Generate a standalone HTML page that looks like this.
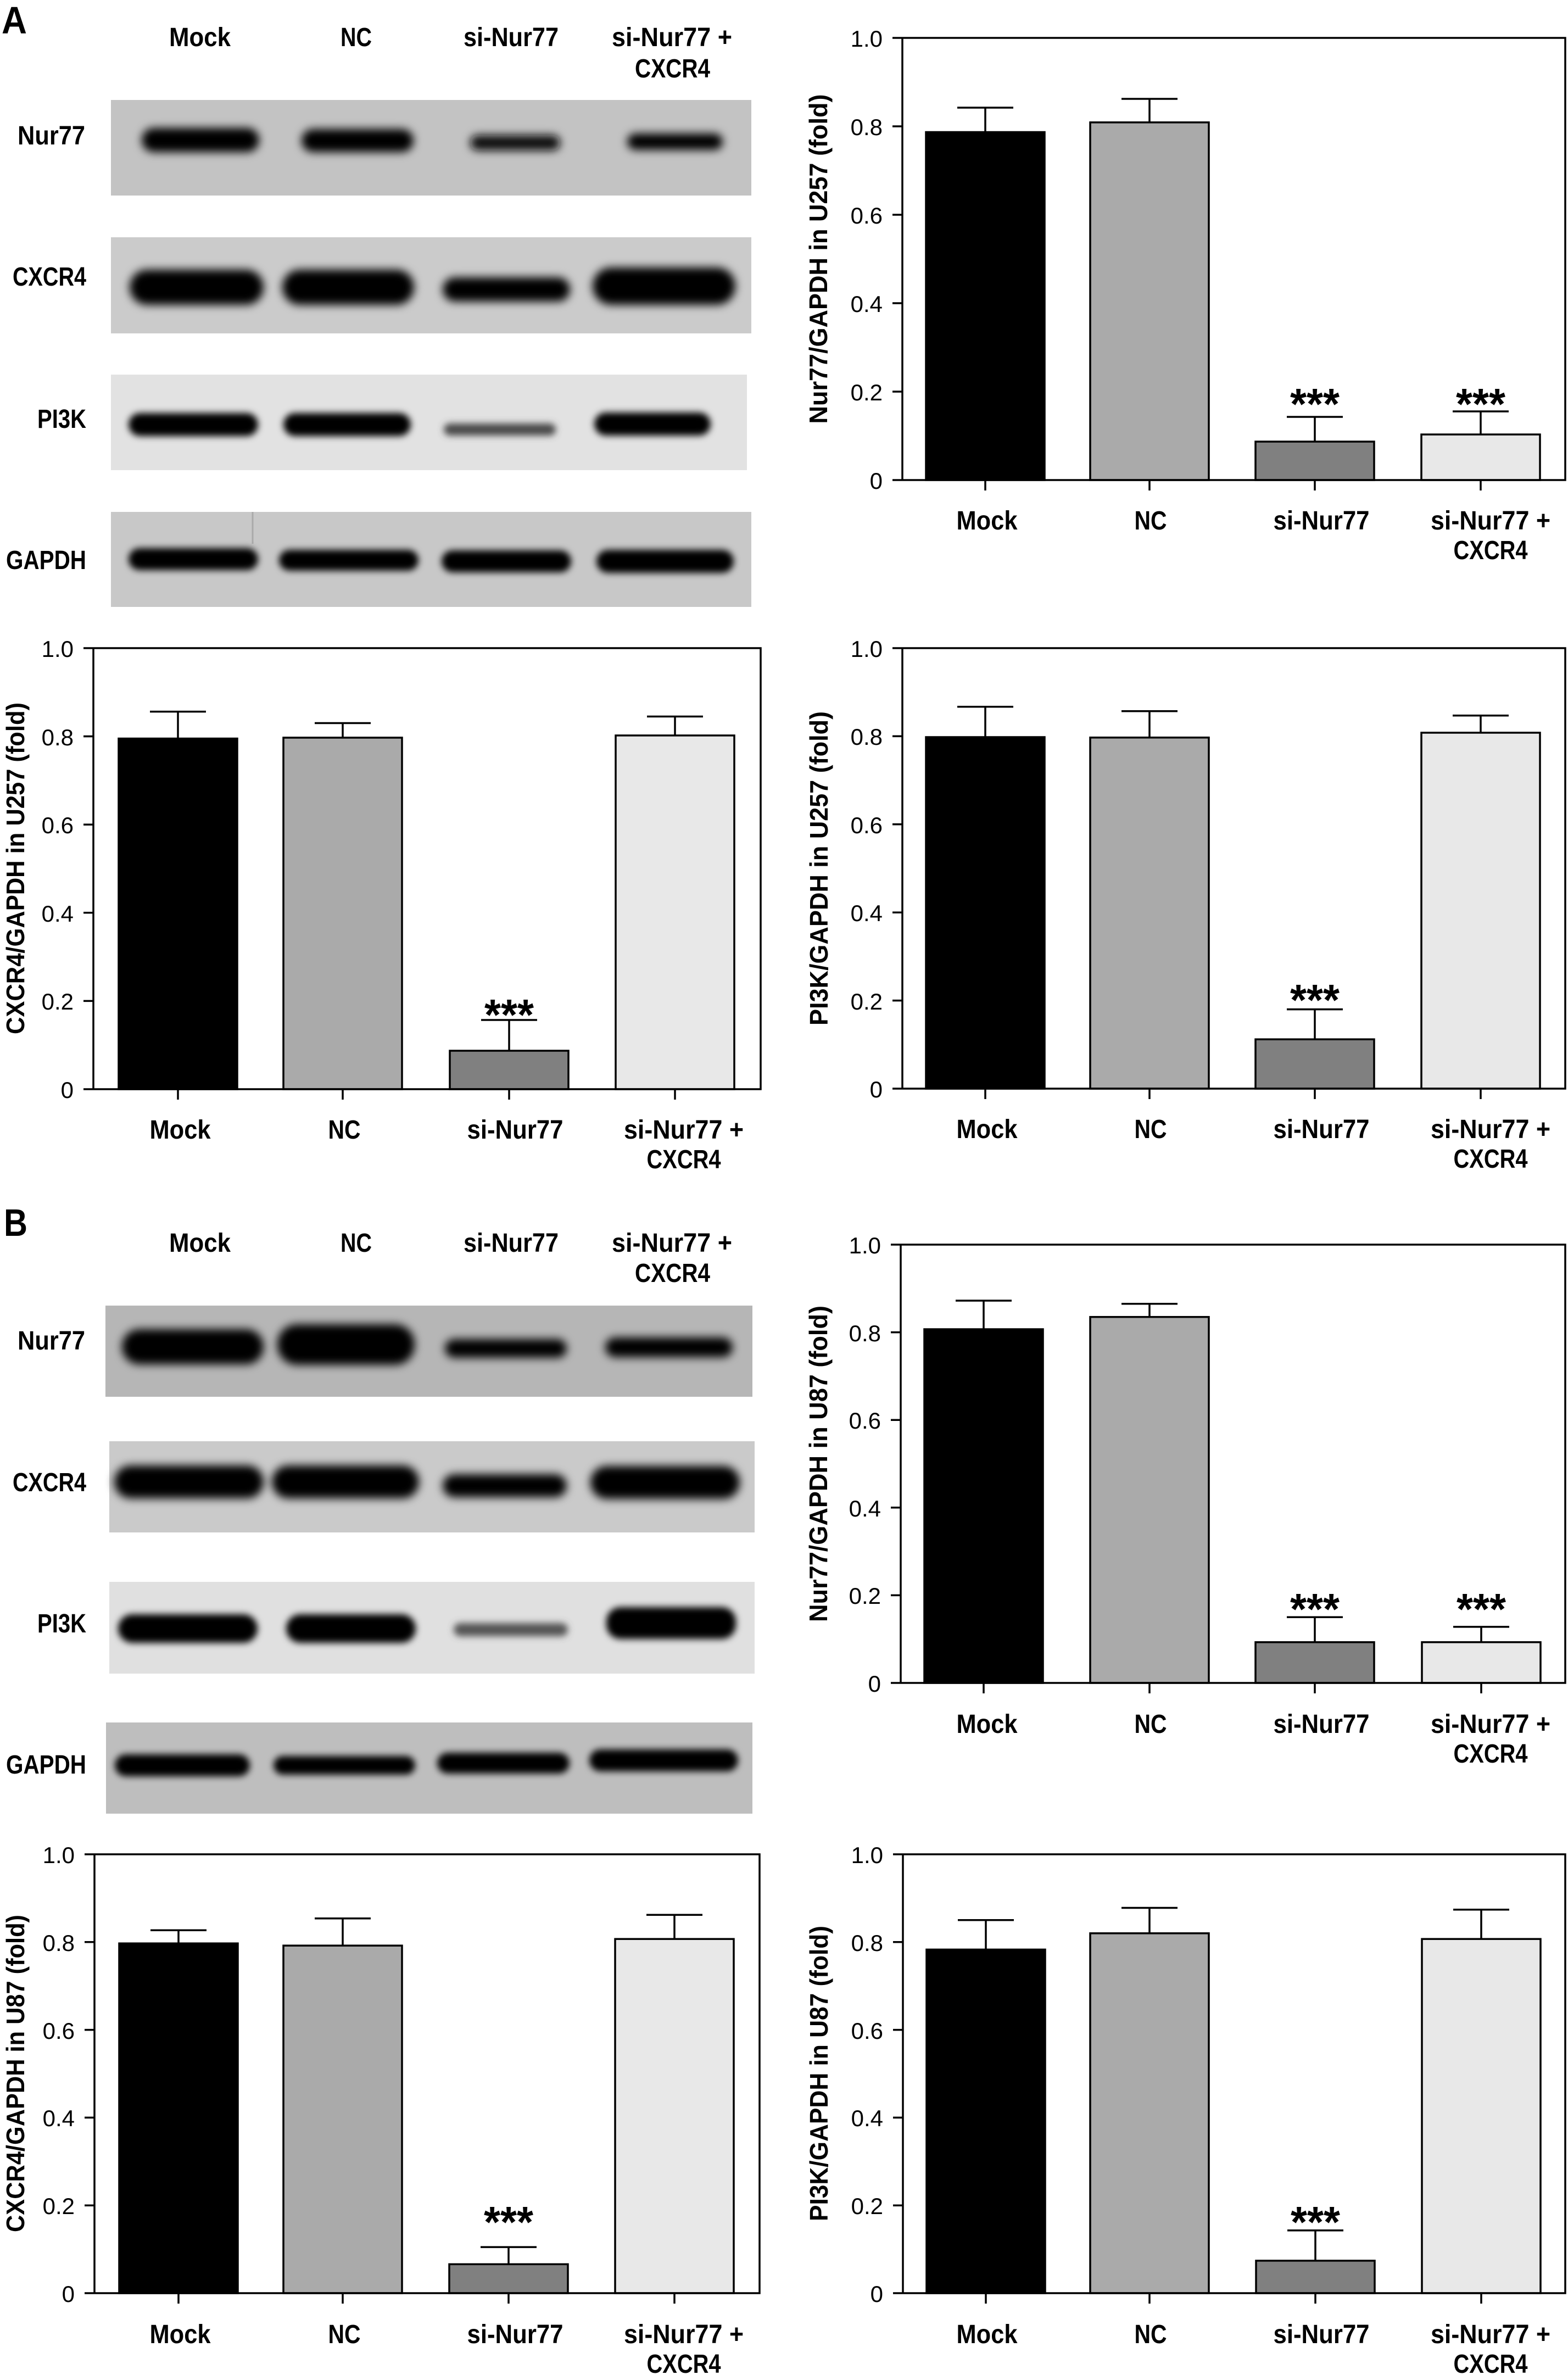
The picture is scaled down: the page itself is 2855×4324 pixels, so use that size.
<!DOCTYPE html>
<html><head><meta charset="utf-8"><style>
html,body{margin:0;padding:0;background:#fff;}
svg{display:block;}
text{font-family:"Liberation Sans",Arial,sans-serif;fill:#000;}
.b{font-weight:bold;font-size:48px;}
.t{font-size:42px;}
.yt{font-weight:bold;font-size:46px;}
.ast{font-weight:bold;font-size:80px;}
.L{font-weight:bold;font-size:70px;}
</style></head><body>
<svg width="2855" height="4324" viewBox="0 0 2855 4324" xmlns="http://www.w3.org/2000/svg">
<defs>
<filter id="bl" x="-20%" y="-100%" width="140%" height="300%"><feGaussianBlur stdDeviation="8"/></filter>
<filter id="bl2" x="-20%" y="-100%" width="140%" height="300%"><feGaussianBlur stdDeviation="6"/></filter>
</defs>
<rect width="2855" height="4324" fill="#fff"/>

<!-- ============ PANEL A BLOTS ============ -->
<text class="L" x="3" y="61" textLength="46" lengthAdjust="spacingAndGlyphs">A</text>
<text class="b" x="308" y="84" textLength="112" lengthAdjust="spacingAndGlyphs">Mock</text>
<text class="b" x="620" y="84" textLength="57" lengthAdjust="spacingAndGlyphs">NC</text>
<text class="b" x="844" y="84" textLength="173" lengthAdjust="spacingAndGlyphs">si-Nur77</text>
<text class="b" x="1114" y="84" textLength="219" lengthAdjust="spacingAndGlyphs">si-Nur77 +</text>
<text class="b" x="1156" y="141" textLength="137" lengthAdjust="spacingAndGlyphs">CXCR4</text>

<text class="b" x="32" y="263" textLength="123" lengthAdjust="spacingAndGlyphs">Nur77</text>
<text class="b" x="23" y="520" textLength="134" lengthAdjust="spacingAndGlyphs">CXCR4</text>
<text class="b" x="68" y="779" textLength="89" lengthAdjust="spacingAndGlyphs">PI3K</text>
<text class="b" x="11" y="1036" textLength="146" lengthAdjust="spacingAndGlyphs">GAPDH</text>

<!-- Nur77 A -->
<rect x="202" y="182" width="1166" height="174" fill="#c3c3c3"/>
<g filter="url(#bl)" fill="#000">
<rect x="258" y="233" width="214" height="44" rx="22"/>
<rect x="549" y="235" width="204" height="42" rx="21"/>
<rect x="856" y="246" width="164" height="28" rx="14" fill="#111"/>
<rect x="1142" y="243" width="174" height="30" rx="15"/>
</g>
<!-- CXCR4 A -->
<rect x="202" y="432" width="1166" height="175" fill="#cbcbcb"/>
<g filter="url(#bl)" fill="#000">
<rect x="236" y="491" width="244" height="64" rx="32"/>
<rect x="514" y="491" width="240" height="64" rx="32"/>
<rect x="806" y="505" width="232" height="44" rx="22"/>
<rect x="1079" y="487" width="260" height="68" rx="34"/>
</g>
<!-- PI3K A -->
<rect x="202" y="682" width="1158" height="174" fill="#e2e2e2"/>
<g filter="url(#bl2)" fill="#000">
<rect x="234" y="752" width="236" height="42" rx="21"/>
<rect x="516" y="752" width="232" height="42" rx="21"/>
<rect x="808" y="771" width="204" height="22" rx="11" fill="#4a4a4a"/>
<rect x="1082" y="751" width="212" height="42" rx="21"/>
</g>
<!-- GAPDH A -->
<rect x="202" y="932" width="1166" height="173" fill="#c8c8c8"/>
<line x1="460" y1="932" x2="460" y2="990" stroke="#aaa" stroke-width="3"/>
<g filter="url(#bl2)" fill="#000">
<rect x="234" y="998" width="236" height="40" rx="20"/>
<rect x="508" y="1001" width="254" height="38" rx="19"/>
<rect x="804" y="1002" width="236" height="40" rx="20"/>
<rect x="1086" y="1001" width="250" height="42" rx="21"/>
</g>

<!-- ============ CHART A top-right ============ -->
<rect x="1686" y="240.5" width="216" height="633.5" fill="#000" stroke="#000" stroke-width="3.5"/>
<rect x="1985" y="222.8" width="216" height="651.2" fill="#aaaaaa" stroke="#000" stroke-width="3.5"/>
<rect x="2286" y="804" width="216" height="70" fill="#808080" stroke="#000" stroke-width="3.5"/>
<rect x="2588" y="791" width="216" height="83" fill="#e8e8e8" stroke="#000" stroke-width="3.5"/>
<path d="M1794,240.5V196M1743,196H1845M2093,222.8V180M2042,180H2144M2394,804V759M2343,759H2445M2696,791V749M2645,749H2747" stroke="#000" stroke-width="3.5" fill="none"/>
<path d="M1625,69H2850V874H1625M1643,69V874M1625,230H1643M1625,391H1643M1625,552H1643M1625,713H1643M1794,874V893M2093,874V893M2394,874V893M2696,874V893" stroke="#000" stroke-width="3.5" fill="none"/>
<g class="t" text-anchor="end">
<text class="t" x="1607" y="85">1.0</text><text class="t" x="1607" y="246">0.8</text><text class="t" x="1607" y="407">0.6</text><text class="t" x="1607" y="568">0.4</text><text class="t" x="1607" y="729">0.2</text><text class="t" x="1607" y="890">0</text>
</g>
<text class="ast" x="2349" y="763" textLength="90" lengthAdjust="spacingAndGlyphs">***</text>
<text class="ast" x="2651" y="763" textLength="90" lengthAdjust="spacingAndGlyphs">***</text>
<text class="yt" transform="translate(1490,471.5) rotate(-90)" x="-300" y="16" textLength="600" lengthAdjust="spacingAndGlyphs">Nur77/GAPDH in U257 (fold)</text>
<text class="b" x="1741.5" y="964" textLength="111" lengthAdjust="spacingAndGlyphs">Mock</text>
<text class="b" x="2065.5" y="964" textLength="59" lengthAdjust="spacingAndGlyphs">NC</text>
<text class="b" x="2318.5" y="964" textLength="175" lengthAdjust="spacingAndGlyphs">si-Nur77</text>
<text class="b" x="2605" y="964" textLength="218" lengthAdjust="spacingAndGlyphs">si-Nur77 +</text>
<text class="b" x="2646.5" y="1018" textLength="135" lengthAdjust="spacingAndGlyphs">CXCR4</text>

<!-- ============ CHART A middle-left ============ -->
<rect x="216" y="1344.6" width="216" height="638.4" fill="#000" stroke="#000" stroke-width="3.5"/>
<rect x="516" y="1343" width="216" height="640" fill="#aaaaaa" stroke="#000" stroke-width="3.5"/>
<rect x="819" y="1913" width="216" height="70" fill="#808080" stroke="#000" stroke-width="3.5"/>
<rect x="1121" y="1339" width="216" height="644" fill="#e8e8e8" stroke="#000" stroke-width="3.5"/>
<path d="M324,1344.6V1295.6M273,1295.6H375M624,1343V1316.5M573,1316.5H675M927,1913V1857M876,1857H978M1229,1339V1304.5M1178,1304.5H1280" stroke="#000" stroke-width="3.5" fill="none"/>
<path d="M152,1180H1385V1983H152M170,1180V1983M152,1340.6H170M152,1501.2H170M152,1661.8H170M152,1822.4H170M324,1983V2002M624,1983V2002M927,1983V2002M1229,1983V2002" stroke="#000" stroke-width="3.5" fill="none"/>
<g text-anchor="end">
<text class="t" x="134" y="1196">1.0</text><text class="t" x="134" y="1357">0.8</text><text class="t" x="134" y="1517">0.6</text><text class="t" x="134" y="1678">0.4</text><text class="t" x="134" y="1838">0.2</text><text class="t" x="134" y="1999">0</text>
</g>
<text class="ast" x="882" y="1875" textLength="90" lengthAdjust="spacingAndGlyphs">***</text>
<text class="yt" transform="translate(28,1581) rotate(-90)" x="-302" y="16" textLength="604" lengthAdjust="spacingAndGlyphs">CXCR4/GAPDH in U257 (fold)</text>
<text class="b" x="272.5" y="2073" textLength="111" lengthAdjust="spacingAndGlyphs">Mock</text>
<text class="b" x="597.5" y="2073" textLength="59" lengthAdjust="spacingAndGlyphs">NC</text>
<text class="b" x="850.5" y="2073" textLength="175" lengthAdjust="spacingAndGlyphs">si-Nur77</text>
<text class="b" x="1136" y="2073" textLength="218" lengthAdjust="spacingAndGlyphs">si-Nur77 +</text>
<text class="b" x="1177.5" y="2127" textLength="135" lengthAdjust="spacingAndGlyphs">CXCR4</text>

<!-- ============ CHART A middle-right ============ -->
<rect x="1686" y="1342" width="216" height="640" fill="#000" stroke="#000" stroke-width="3.5"/>
<rect x="1985" y="1342.8" width="216" height="639.2" fill="#aaaaaa" stroke="#000" stroke-width="3.5"/>
<rect x="2286" y="1892.2" width="216" height="89.8" fill="#808080" stroke="#000" stroke-width="3.5"/>
<rect x="2588" y="1334" width="216" height="648" fill="#e8e8e8" stroke="#000" stroke-width="3.5"/>
<path d="M1794,1342V1286.7M1743,1286.7H1845M2093,1342.8V1294.7M2042,1294.7H2144M2394,1892.2V1837.6M2343,1837.6H2445M2696,1334V1302.7M2645,1302.7H2747" stroke="#000" stroke-width="3.5" fill="none"/>
<path d="M1625,1180H2850V1982H1625M1643,1180V1982M1625,1340.4H1643M1625,1500.8H1643M1625,1661.2H1643M1625,1821.6H1643M1794,1982V2001M2093,1982V2001M2394,1982V2001M2696,1982V2001" stroke="#000" stroke-width="3.5" fill="none"/>
<g text-anchor="end">
<text class="t" x="1607" y="1196">1.0</text><text class="t" x="1607" y="1356">0.8</text><text class="t" x="1607" y="1517">0.6</text><text class="t" x="1607" y="1677">0.4</text><text class="t" x="1607" y="1838">0.2</text><text class="t" x="1607" y="1998">0</text>
</g>
<text class="ast" x="2349" y="1848" textLength="90" lengthAdjust="spacingAndGlyphs">***</text>
<text class="yt" transform="translate(1491,1581) rotate(-90)" x="-286" y="16" textLength="572" lengthAdjust="spacingAndGlyphs">PI3K/GAPDH in U257 (fold)</text>
<text class="b" x="1741.5" y="2072" textLength="111" lengthAdjust="spacingAndGlyphs">Mock</text>
<text class="b" x="2065.5" y="2072" textLength="59" lengthAdjust="spacingAndGlyphs">NC</text>
<text class="b" x="2318.5" y="2072" textLength="175" lengthAdjust="spacingAndGlyphs">si-Nur77</text>
<text class="b" x="2605" y="2072" textLength="218" lengthAdjust="spacingAndGlyphs">si-Nur77 +</text>
<text class="b" x="2646.5" y="2126" textLength="135" lengthAdjust="spacingAndGlyphs">CXCR4</text>

<!-- ============ PANEL B BLOTS ============ -->
<text class="L" x="7" y="2250" textLength="43" lengthAdjust="spacingAndGlyphs">B</text>
<text class="b" x="308" y="2279" textLength="112" lengthAdjust="spacingAndGlyphs">Mock</text>
<text class="b" x="620" y="2279" textLength="57" lengthAdjust="spacingAndGlyphs">NC</text>
<text class="b" x="844" y="2279" textLength="173" lengthAdjust="spacingAndGlyphs">si-Nur77</text>
<text class="b" x="1114" y="2279" textLength="219" lengthAdjust="spacingAndGlyphs">si-Nur77 +</text>
<text class="b" x="1156" y="2334" textLength="137" lengthAdjust="spacingAndGlyphs">CXCR4</text>

<text class="b" x="32" y="2457" textLength="123" lengthAdjust="spacingAndGlyphs">Nur77</text>
<text class="b" x="23" y="2715" textLength="134" lengthAdjust="spacingAndGlyphs">CXCR4</text>
<text class="b" x="68" y="2972" textLength="89" lengthAdjust="spacingAndGlyphs">PI3K</text>
<text class="b" x="11" y="3229" textLength="146" lengthAdjust="spacingAndGlyphs">GAPDH</text>

<!-- Nur77 B -->
<rect x="192" y="2377" width="1178" height="166" fill="#b6b6b6"/>
<g filter="url(#bl)" fill="#000">
<rect x="222" y="2420" width="258" height="64" rx="32"/>
<rect x="505" y="2411" width="250" height="74" rx="36"/>
<rect x="810" y="2438" width="222" height="34" rx="17"/>
<rect x="1102" y="2435" width="232" height="36" rx="18"/>
</g>
<!-- CXCR4 B -->
<rect x="199" y="2624" width="1175" height="166" fill="#cacaca"/>
<g filter="url(#bl)" fill="#000">
<rect x="208" y="2668" width="272" height="60" rx="30"/>
<rect x="495" y="2668" width="268" height="60" rx="30"/>
<rect x="806" y="2684" width="226" height="42" rx="21"/>
<rect x="1075" y="2669" width="272" height="60" rx="30"/>
</g>
<!-- PI3K B -->
<rect x="199" y="2880" width="1175" height="167" fill="#e0e0e0"/>
<g filter="url(#bl2)" fill="#000">
<rect x="215" y="2939" width="254" height="52" rx="26"/>
<rect x="521" y="2939" width="236" height="52" rx="26"/>
<rect x="826" y="2955" width="208" height="24" rx="12" fill="#555"/>
<rect x="1104" y="2926" width="236" height="58" rx="26"/>
</g>
<!-- GAPDH B -->
<rect x="193" y="3136" width="1177" height="166" fill="#bebebe"/>
<g filter="url(#bl2)" fill="#000">
<rect x="209" y="3194" width="246" height="40" rx="20"/>
<rect x="498" y="3197" width="258" height="34" rx="17"/>
<rect x="796" y="3191" width="241" height="38" rx="19"/>
<rect x="1073" y="3185" width="271" height="40" rx="20"/>
</g>

<!-- ============ CHART B top-right ============ -->
<rect x="1683" y="2420" width="216" height="644" fill="#000" stroke="#000" stroke-width="3.5"/>
<rect x="1985" y="2397.7" width="216" height="666.3" fill="#aaaaaa" stroke="#000" stroke-width="3.5"/>
<rect x="2286" y="2989.8" width="216" height="74.2" fill="#808080" stroke="#000" stroke-width="3.5"/>
<rect x="2589" y="2989.8" width="216" height="74.2" fill="#e8e8e8" stroke="#000" stroke-width="3.5"/>
<path d="M1791,2420V2368M1740,2368H1842M2093,2397.7V2373.7M2042,2373.7H2144M2394,2989.8V2944.3M2343,2944.3H2445M2697,2989.8V2961.9M2646,2961.9H2748" stroke="#000" stroke-width="3.5" fill="none"/>
<path d="M1622,2266H2850V3064H1622M1640,2266V3064M1622,2425.6H1640M1622,2585.2H1640M1622,2744.8H1640M1622,2904.4H1640M1791,3064V3083M2093,3064V3083M2394,3064V3083M2697,3064V3083" stroke="#000" stroke-width="3.5" fill="none"/>
<g text-anchor="end">
<text class="t" x="1604" y="2282">1.0</text><text class="t" x="1604" y="2442">0.8</text><text class="t" x="1604" y="2601">0.6</text><text class="t" x="1604" y="2761">0.4</text><text class="t" x="1604" y="2920">0.2</text><text class="t" x="1604" y="3080">0</text>
</g>
<text class="ast" x="2349" y="2957" textLength="90" lengthAdjust="spacingAndGlyphs">***</text>
<text class="ast" x="2652" y="2957" textLength="90" lengthAdjust="spacingAndGlyphs">***</text>
<text class="yt" transform="translate(1490,2665) rotate(-90)" x="-288" y="16" textLength="576" lengthAdjust="spacingAndGlyphs">Nur77/GAPDH in U87 (fold)</text>
<text class="b" x="1741.5" y="3155" textLength="111" lengthAdjust="spacingAndGlyphs">Mock</text>
<text class="b" x="2065.5" y="3155" textLength="59" lengthAdjust="spacingAndGlyphs">NC</text>
<text class="b" x="2318.5" y="3155" textLength="175" lengthAdjust="spacingAndGlyphs">si-Nur77</text>
<text class="b" x="2605" y="3155" textLength="218" lengthAdjust="spacingAndGlyphs">si-Nur77 +</text>
<text class="b" x="2646.5" y="3209" textLength="135" lengthAdjust="spacingAndGlyphs">CXCR4</text>

<!-- ============ CHART B bottom-left ============ -->
<rect x="217" y="3538.2" width="216" height="636.8" fill="#000" stroke="#000" stroke-width="3.5"/>
<rect x="516" y="3542.2" width="216" height="632.8" fill="#aaaaaa" stroke="#000" stroke-width="3.5"/>
<rect x="818" y="4122.3" width="216" height="52.7" fill="#808080" stroke="#000" stroke-width="3.5"/>
<rect x="1120" y="3530.2" width="216" height="644.8" fill="#e8e8e8" stroke="#000" stroke-width="3.5"/>
<path d="M325,3538.2V3514.2M274,3514.2H376M624,3542.2V3492.7M573,3492.7H675M926,4122.3V4091.1M875,4091.1H977M1228,3530.2V3486.3M1177,3486.3H1279" stroke="#000" stroke-width="3.5" fill="none"/>
<path d="M154,3376H1383V4175H154M172,3376V4175M154,3535.8H172M154,3695.6H172M154,3855.4H172M154,4015.2H172M325,4175V4194M624,4175V4194M926,4175V4194M1228,4175V4194" stroke="#000" stroke-width="3.5" fill="none"/>
<g text-anchor="end">
<text class="t" x="136" y="3392">1.0</text><text class="t" x="136" y="3552">0.8</text><text class="t" x="136" y="3712">0.6</text><text class="t" x="136" y="3871">0.4</text><text class="t" x="136" y="4031">0.2</text><text class="t" x="136" y="4191">0</text>
</g>
<text class="ast" x="881" y="4073" textLength="90" lengthAdjust="spacingAndGlyphs">***</text>
<text class="yt" transform="translate(28,3775) rotate(-90)" x="-289" y="16" textLength="578" lengthAdjust="spacingAndGlyphs">CXCR4/GAPDH in U87 (fold)</text>
<text class="b" x="272.5" y="4266" textLength="111" lengthAdjust="spacingAndGlyphs">Mock</text>
<text class="b" x="597.5" y="4266" textLength="59" lengthAdjust="spacingAndGlyphs">NC</text>
<text class="b" x="850.5" y="4266" textLength="175" lengthAdjust="spacingAndGlyphs">si-Nur77</text>
<text class="b" x="1136" y="4266" textLength="218" lengthAdjust="spacingAndGlyphs">si-Nur77 +</text>
<text class="b" x="1177.5" y="4320" textLength="135" lengthAdjust="spacingAndGlyphs">CXCR4</text>

<!-- ============ CHART B bottom-right ============ -->
<rect x="1687" y="3549.4" width="216" height="625.6" fill="#000" stroke="#000" stroke-width="3.5"/>
<rect x="1985" y="3519.8" width="216" height="655.2" fill="#aaaaaa" stroke="#000" stroke-width="3.5"/>
<rect x="2287" y="4115.9" width="216" height="59.1" fill="#808080" stroke="#000" stroke-width="3.5"/>
<rect x="2589" y="3530.2" width="216" height="644.8" fill="#e8e8e8" stroke="#000" stroke-width="3.5"/>
<path d="M1795,3549.4V3495.8M1744,3495.8H1846M2093,3519.8V3473.5M2042,3473.5H2144M2395,4115.9V4060.7M2344,4060.7H2446M2697,3530.2V3476.7M2646,3476.7H2748" stroke="#000" stroke-width="3.5" fill="none"/>
<path d="M1626,3376H2850V4175H1626M1644,3376V4175M1626,3535.8H1644M1626,3695.6H1644M1626,3855.4H1644M1626,4015.2H1644M1795,4175V4194M2093,4175V4194M2395,4175V4194M2697,4175V4194" stroke="#000" stroke-width="3.5" fill="none"/>
<g text-anchor="end">
<text class="t" x="1608" y="3392">1.0</text><text class="t" x="1608" y="3552">0.8</text><text class="t" x="1608" y="3712">0.6</text><text class="t" x="1608" y="3871">0.4</text><text class="t" x="1608" y="4031">0.2</text><text class="t" x="1608" y="4191">0</text>
</g>
<text class="ast" x="2350" y="4073" textLength="90" lengthAdjust="spacingAndGlyphs">***</text>
<text class="yt" transform="translate(1491,3775) rotate(-90)" x="-269" y="16" textLength="538" lengthAdjust="spacingAndGlyphs">PI3K/GAPDH in U87 (fold)</text>
<text class="b" x="1741.5" y="4266" textLength="111" lengthAdjust="spacingAndGlyphs">Mock</text>
<text class="b" x="2065.5" y="4266" textLength="59" lengthAdjust="spacingAndGlyphs">NC</text>
<text class="b" x="2318.5" y="4266" textLength="175" lengthAdjust="spacingAndGlyphs">si-Nur77</text>
<text class="b" x="2605" y="4266" textLength="218" lengthAdjust="spacingAndGlyphs">si-Nur77 +</text>
<text class="b" x="2646.5" y="4320" textLength="135" lengthAdjust="spacingAndGlyphs">CXCR4</text>
</svg>
</body></html>
